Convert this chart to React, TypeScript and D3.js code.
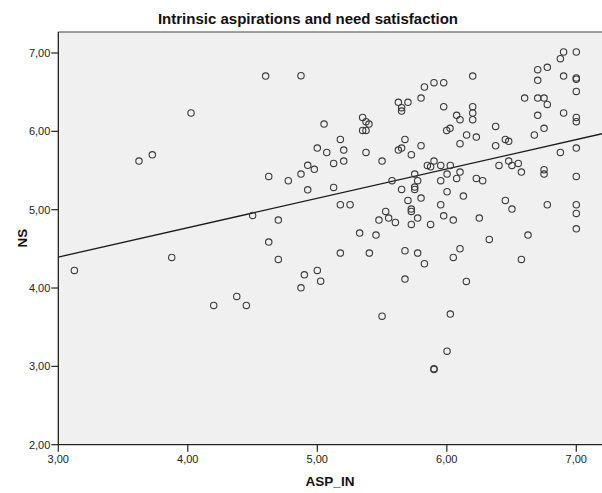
import React from "react";
import * as d3 from "d3";

const chartTitle = "Intrinsic aspirations and need satisfaction";
const xLabel = "ASP_IN";
const yLabel = "NS";
const xTicks = [3, 4, 5, 6, 7];
const yTicks = [2, 3, 4, 5, 6, 7];
const fitIntercept = 3.27;
const fitSlope = 0.375;

const aspIn: number[] = [
  4.601, 4.874, 4.025, 5.052, 3.726, 3.623, 5.0, 5.073, 4.926, 4.977, 4.874, 4.625, 4.776, 4.926, 4.501, 4.699,
  3.124, 3.876, 4.625, 4.699, 4.9, 5.0, 5.026, 4.874, 4.378, 4.2, 4.452,
  6.902, 7.0, 6.877, 6.776, 6.702, 6.2, 6.902, 7.0, 7.0, 6.702, 5.901, 5.976, 5.827, 7.0,
  5.801, 6.601, 6.702, 6.751, 5.626, 5.7, 6.776, 5.651, 5.651, 5.976, 6.2, 6.2, 6.702, 6.902,
  5.35, 6.076, 6.102, 6.2, 7.0, 7.0, 5.376, 5.399, 5.35, 5.376, 5.999, 6.025, 6.377, 6.751,
  6.153, 6.228, 6.676, 5.178, 5.677, 6.452, 6.478, 6.102, 6.377, 5.801, 5.626, 5.651, 7.0,
  5.204, 5.376, 5.726, 6.877, 5.126, 5.204, 5.5, 5.901, 5.85, 5.875, 5.953, 6.027, 6.403,
  6.478, 6.503, 6.552, 6.576, 6.102, 6.002, 5.752, 6.751, 6.751, 7.0, 5.577, 5.775, 5.953,
  6.076, 6.228, 6.277, 5.126, 5.752, 5.752, 5.651, 6.002, 6.128, 5.801, 5.7, 6.452, 5.178,
  5.253, 5.953, 6.776, 7.0, 5.726, 5.726, 6.503, 5.528, 7.0, 5.551, 5.775, 5.976, 6.251,
  5.476, 5.603, 5.726, 5.875, 6.05, 7.0, 5.327, 5.453, 6.328, 6.627,
  5.178, 5.402, 5.677, 5.775, 5.827, 6.05, 6.102, 6.576, 5.677, 6.151, 5.5, 6.027, 6.002, 5.901, 5.901
];

const ns: number[] = [
  6.706, 6.71, 6.234, 6.093, 5.7, 5.62, 5.787, 5.73, 5.566, 5.515, 5.455, 5.425, 5.369, 5.254, 4.927, 4.867,
  4.225, 4.39, 4.586, 4.365, 4.169, 4.225, 4.088, 4.003, 3.893, 3.778, 3.778,
  7.013, 7.013, 6.928, 6.817, 6.787, 6.706, 6.706, 6.681, 6.665, 6.651, 6.621, 6.621, 6.566, 6.51,
  6.425, 6.425, 6.425, 6.425, 6.37, 6.37, 6.344, 6.302, 6.259, 6.315, 6.315, 6.234, 6.204, 6.234,
  6.178, 6.204, 6.149, 6.149, 6.178, 6.123, 6.123, 6.093, 6.012, 6.012, 6.012, 6.038, 6.063, 6.038,
  5.953, 5.927, 5.953, 5.897, 5.897, 5.897, 5.872, 5.842, 5.816, 5.816, 5.761, 5.787, 5.787,
  5.761, 5.731, 5.702, 5.731, 5.591, 5.621, 5.621, 5.621, 5.565, 5.548, 5.565, 5.565, 5.565,
  5.621, 5.565, 5.591, 5.48, 5.48, 5.455, 5.455, 5.51, 5.455, 5.425, 5.37, 5.37, 5.37,
  5.399, 5.399, 5.37, 5.284, 5.288, 5.259, 5.259, 5.229, 5.174, 5.148, 5.118, 5.118, 5.063,
  5.063, 5.063, 5.063, 5.063, 5.008, 4.978, 5.008, 4.978, 4.952, 4.893, 4.893, 4.922, 4.893,
  4.867, 4.837, 4.812, 4.812, 4.867, 4.756, 4.701, 4.676, 4.62, 4.676,
  4.446, 4.446, 4.476, 4.446, 4.31, 4.39, 4.501, 4.365, 4.114, 4.084, 3.641, 3.667, 3.194, 2.96, 2.97
];

const W = 602;
const H = 493;
const plotLeft = 58.3;
const plotRight = 602;
const plotTop = 32;
const plotBottom = 444.7;

export default function App() {
  const x = d3.scaleLinear().domain([3, 7]).range([58.3, 576.3]);
  const y = d3.scaleLinear().domain([2, 7]).range([444.7, 53]);
  const xMax = x.invert(plotRight);
  const fitPts: [number, number][] = [3, xMax].map((v) => [x(v), y(fitIntercept + fitSlope * v)]);
  const line = d3.line();
  const pts = aspIn.map((v, i) => ({ x: v, y: ns[i] }));
  const font = "'Liberation Sans', Arial, sans-serif";
  return (
    <svg width={W} height={H} style={{ position: "absolute", left: 0, top: 0, background: "#fff" }} fontFamily={font}>
      <text x={308} y={24} textAnchor="middle" fontSize={15} fontWeight="bold" fill="#111">{chartTitle}</text>
      <rect x={plotLeft} y={plotTop} width={plotRight - plotLeft} height={plotBottom - plotTop} fill="#f0f0f0" />
      <line x1={plotLeft} x2={plotRight} y1={plotTop} y2={plotTop} stroke="#444" strokeWidth={1.2} />
      <path d={line(fitPts) || ""} stroke="#1a1a1a" strokeWidth={1.3} fill="none" />
      {pts.map((p, i) => (
        <circle key={i} cx={x(p.x)} cy={y(p.y)} r={3.2} fill="none" stroke="#3a3a3a" strokeWidth={1.1} />
      ))}
      <line x1={plotLeft} x2={plotLeft} y1={plotTop} y2={plotBottom} stroke="#222" strokeWidth={1.3} />
      <line x1={plotLeft} x2={plotRight} y1={plotBottom} y2={plotBottom} stroke="#222" strokeWidth={1.3} />
      {yTicks.map((t) => (
        <g key={"y" + t}>
          <line x1={plotLeft - 7} x2={plotLeft} y1={y(t)} y2={y(t)} stroke="#222" strokeWidth={1.2} />
          <text x={plotLeft - 8} y={y(t) + 4} textAnchor="end" fontSize={11} fill="#222">{d3.format(".2f")(t).replace(".", ",")}</text>
        </g>
      ))}
      {xTicks.map((t) => (
        <g key={"x" + t}>
          <line x1={x(t)} x2={x(t)} y1={plotBottom} y2={plotBottom + 7} stroke="#222" strokeWidth={1.2} />
          <text x={x(t)} y={plotBottom + 18} textAnchor="middle" fontSize={11} fill="#222">{d3.format(".2f")(t).replace(".", ",")}</text>
        </g>
      ))}
      <text x={330} y={486} textAnchor="middle" fontSize={13.5} fontWeight="bold" fill="#111">{xLabel}</text>
      <text transform={`translate(27,238) rotate(-90)`} textAnchor="middle" fontSize={13.5} fontWeight="bold" fill="#111">{yLabel}</text>
    </svg>
  );
}
